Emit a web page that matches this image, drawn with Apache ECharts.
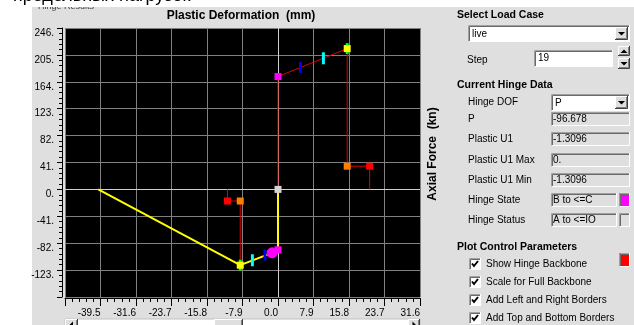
<!DOCTYPE html>
<html>
<head>
<meta charset="utf-8">
<script src="https://cdn.jsdelivr.net/npm/echarts@6/dist/echarts.min.js"></script>
<style>
html, body { margin: 0; padding: 0; background: #fff; }
#win { position: absolute; left: 32px; top: 7px; width: 602px; height: 318px; background: #dfdfdf; }
#chart { position: absolute; left: 0; top: 0; width: 634px; height: 325px; }
</style>
</head>
<body>
<div id="win"></div>
<div id="chart"></div>
<script>
// axis ticks
const xTickLabels = ['-47.4', '-39.5', '-31.6', '-23.7', '-15.8', '-7.9', '0.0', '7.9', '15.8', '23.7', '31.6'];
const yTickLabels = ['-164.', '-123.', '-82.', '-41.', '0.', '41.', '82.', '123.', '164.', '205.', '246.'];

// hinge backbone (plastic deformation mm, axial force kN)
const backboneX = [-11.25, -11.25, -8.4, -8.4, 0, 0, 15.4, 15.4, 20.4, 20.4];
const backboneY = [0, -17.7, -17.7, -115.5, -92, 172, 214.6, 35.4, 35.4, 0];

// hinge response path
const pathAX = [-40, -8.4, -1.3096];
const pathAY = [0, -115.5, -96.678];
const pathBX = [0, 0, -1.3096];
const pathBY = [0, -92, -96.678];

// backbone points A..E and acceptance marks
const ptA = [[0, 0]];
const ptB = [[0, 172], [0, -92]];
const ptC = [[15.4, 214.6], [-8.4, -115.5]];
const ptD = [[15.4, 35.4], [-8.4, -17.7]];
const ptE = [[20.4, 35.4], [-11.25, -17.7]];
const ptIO = [[5.0, 185.7], [-2.9, -100.1]];
const ptLS = [[10.1, 199.8], [-5.7, -108.0]];
const ptCP = [[15.4, 214.6], [-8.4, -115.5]];
const ptNow = [[-1.3096, -96.678]];

const FONT = '"Liberation Sans", Arial, sans-serif';

function pairs(xs, ys) {
  return xs.map((x, i) => [x, ys[i]]);
}

function marks(data, color, size, shape) {
  return {
    type: 'scatter', data: data, symbol: shape || 'rect', symbolSize: size,
    itemStyle: { color: color, opacity: 1 }, silent: true, z: 5
  };
}

function label(x, y, s, o) {
  o = o || {};
  const align = o.align || 'left';
  const va = o.va || 'middle';
  return {
    type: 'text', x: x, y: y, z: o.z || 20, rotation: o.rot || 0, silent: true,
    style: {
      text: s, font: (o.bold ? 'bold ' : '') + (o.size || 10) + 'px ' + FONT,
      fill: o.color || '#000', align: align, verticalAlign: va,
      textAlign: align, textVerticalAlign: va
    }
  };
}

function line(pts, color, z) {
  return { type: 'polyline', z: z || 20, silent: true, shape: { points: pts }, style: { stroke: color, fill: null, lineWidth: 1 } };
}

function sunken(x, y, w, h, fill) {
  return [
    { type: 'rect', z: 20, silent: true, shape: { x: x, y: y, width: w, height: h }, style: { fill: fill } },
    line([[x + 0.5, y + h], [x + 0.5, y + 0.5], [x + w, y + 0.5]], '#a0a0a0'),
    line([[x + 1.5, y + h - 1], [x + 1.5, y + 1.5], [x + w - 1, y + 1.5]], '#696969'),
    line([[x + 0.5, y + h - 0.5], [x + w - 0.5, y + h - 0.5], [x + w - 0.5, y]], '#ffffff')
  ];
}

function raised(x, y, w, h) {
  return [
    { type: 'rect', z: 21, silent: true, shape: { x: x, y: y, width: w, height: h }, style: { fill: '#dfdfdf' } },
    line([[x + 0.5, y + h], [x + 0.5, y + 0.5], [x + w, y + 0.5]], '#ffffff', 21),
    line([[x, y + h - 0.5], [x + w - 0.5, y + h - 0.5], [x + w - 0.5, y]], '#404040', 21),
    line([[x + 1, y + h - 1.5], [x + w - 1.5, y + h - 1.5], [x + w - 1.5, y + 1]], '#808080', 21)
  ];
}

function arrow(cx, cy, dir) {
  let p;
  if (dir === 'down') p = [[cx - 3.5, cy - 1.5], [cx + 3.5, cy - 1.5], [cx, cy + 2]];
  else if (dir === 'up') p = [[cx - 3.5, cy + 2], [cx + 3.5, cy + 2], [cx, cy - 1.5]];
  else if (dir === 'left') p = [[cx + 1.5, cy - 3.5], [cx + 1.5, cy + 3.5], [cx - 2, cy]];
  else p = [[cx - 1.5, cy - 3.5], [cx - 1.5, cy + 3.5], [cx + 2, cy]];
  return { type: 'polygon', z: 22, silent: true, shape: { points: p }, style: { fill: '#000' } };
}

function combo(x, y, w, h, s) {
  return [].concat(
    sunken(x, y, w, h, '#fff'),
    raised(x + w - 15, y + 2, 13, h - 4),
    [arrow(x + w - 8.5, y + h / 2, 'down'), label(x + 4, y + h / 2 + 0.5, s)]
  );
}

function checkbox(x, y, s) {
  return [].concat(
    sunken(x, y - 6, 12, 12, '#fff'),
    [{ type: 'polyline', z: 22, silent: true, shape: { points: [[x + 3, y - 0.5], [x + 5, y + 2], [x + 9, y - 3]] },
       style: { stroke: '#000', fill: null, lineWidth: 2 } },
     label(x + 17, y + 0.5, s)]
  );
}

const rows = [
  ['P', '-96.678', 112],
  ['Plastic U1', '-1.3096', 132],
  ['Plastic U1 Max', '0.', 153],
  ['Plastic U1 Min', '-1.3096', 173]
];

let panel = [
  label(38, 11, 'Hinge Results', { size: 9, color: '#404040', va: 'bottom' }),
  { type: 'rect', z: 30, silent: true, shape: { x: 0, y: 0, width: 634, height: 7 }, style: { fill: '#fff' } },
  label(13, -4, 'предельных нагрузок', { size: 18, z: 31 }),
  label(241, 16, 'Plastic Deformation  (mm)', { bold: true, size: 12, align: 'center' }),
  label(433, 154, 'Axial Force  (kn)', { bold: true, size: 12, align: 'center', rot: Math.PI / 2 }),
  label(457, 15, 'Select Load Case', { bold: true, size: 10.5 }),
  label(467, 60, 'Step'),
  label(457, 85, 'Current Hinge Data', { bold: true, size: 10.5 }),
  label(468, 102, 'Hinge DOF'),
  label(468, 200, 'Hinge State'),
  label(468, 220, 'Hinge Status'),
  label(457, 247, 'Plot Control Parameters', { bold: true, size: 10.5 })
];
panel = panel.concat(combo(468, 25, 162, 17, 'live'));
panel = panel.concat(sunken(534, 50, 79, 17, '#fff'), [label(538, 58.5, '19')]);
panel = panel.concat(raised(618, 46, 12, 10), [arrow(624, 51, 'up')]);
panel = panel.concat(raised(618, 58, 12, 11), [arrow(624, 63.5, 'down')]);
panel = panel.concat(combo(551, 94, 79, 17, 'P'));
rows.forEach(r => {
  panel = panel.concat([label(468, r[2] + 7, r[0])], sunken(551, r[2], 79, 14, '#dfdfdf'), [label(553, r[2] + 7.5, r[1])]);
});
panel = panel.concat(sunken(551, 193, 66, 14, '#dfdfdf'), [label(553, 200.5, 'B to <=C')]);
panel = panel.concat(sunken(619, 193, 11, 14, '#ff00ff'));
panel = panel.concat(sunken(551, 213, 66, 14, '#dfdfdf'), [label(553, 220.5, 'A to <=IO')]);
panel = panel.concat(sunken(619, 213, 11, 14, '#dfdfdf'));
panel = panel.concat(sunken(619, 253, 11, 14, '#ff0000'));
panel = panel.concat(checkbox(469, 264, 'Show Hinge Backbone'));
panel = panel.concat(checkbox(469, 282, 'Scale for Full Backbone'));
panel = panel.concat(checkbox(469, 300, 'Add Left and Right Borders'));
panel = panel.concat(checkbox(469, 318, 'Add Top and Bottom Borders'));
// horizontal scrollbar under the plot
panel = panel.concat(
  [{ type: 'rect', z: 20, silent: true, shape: { x: 65, y: 319, width: 355, height: 12 }, style: { fill: '#fff', stroke: '#c0c0c0', lineWidth: 1 } }],
  raised(65, 319, 13, 12), [arrow(71.5, 325, 'left')],
  raised(214, 319, 29, 12),
  raised(408, 319, 12, 12), [arrow(414, 325, 'right')]
);

const chart = echarts.init(document.getElementById('chart'), null, { renderer: 'canvas' });

const axisFont = { color: '#000', fontSize: 10, fontFamily: FONT };

chart.setOption({
  animation: false,
  backgroundColor: 'transparent',
  grid: {
    left: 65, top: 28, width: 355, height: 269,
    show: true, backgroundColor: '#000', borderWidth: 0,
    containLabel: false, outerBoundsMode: 'none'
  },
  xAxis: {
    type: 'value', min: -47.4, max: 31.6, interval: 7.9, offset: 1,
    axisLine: { show: true, onZero: false, lineStyle: { color: '#000', width: 1 } },
    axisTick: { show: true, length: 8, lineStyle: { color: '#000' } },
    minorTick: { show: true, splitNumber: 5, length: 4, lineStyle: { color: '#000' } },
    axisLabel: Object.assign({
      margin: 10, align: 'right', showMinLabel: false, showMaxLabel: true,
      formatter: v => {
        const i = Math.round((v + 47.4) / 7.9);
        return i === 0 ? '' : xTickLabels[i];
      }
    }, axisFont),
    splitLine: { show: true, lineStyle: { color: '#808080', width: 1 } }
  },
  yAxis: {
    type: 'value', min: -164, max: 246, interval: 41, offset: 3,
    axisLine: { show: true, onZero: false, lineStyle: { color: '#000', width: 1 } },
    axisTick: { show: true, length: 5, lineStyle: { color: '#000' } },
    minorTick: { show: true, splitNumber: 5, length: 3, lineStyle: { color: '#000' } },
    axisLabel: Object.assign({
      margin: 8, verticalAlign: 'top', showMinLabel: false, showMaxLabel: true,
      formatter: v => {
        const i = Math.round((v + 164) / 41);
        return i === 0 ? '' : yTickLabels[i];
      }
    }, axisFont),
    splitLine: { show: true, lineStyle: { color: '#808080', width: 1 } }
  },
  graphic: { elements: panel },
  series: [
    {
      type: 'line', data: [], z: 1, silent: true,
      markLine: {
        silent: true, symbol: 'none', label: { show: false }, animation: false, z: 1,
        lineStyle: { color: '#d0d0d0', type: 'solid', width: 1 },
        data: [{ xAxis: 0 }, { yAxis: 0 }]
      }
    },
    {
      type: 'line', data: pairs(backboneX, backboneY), symbol: 'none', silent: true, z: 2,
      lineStyle: { color: '#e00000', width: 1 }
    },
    {
      type: 'line', data: pairs(pathAX, pathAY), symbol: 'none', silent: true, z: 3,
      lineStyle: { color: '#ffff00', width: 2 }
    },
    {
      type: 'line', data: pairs(pathBX, pathBY), symbol: 'none', silent: true, z: 3,
      lineStyle: { color: '#ffff00', width: 2 }
    },
    marks(ptIO, '#0000ff', [3, 11]),
    marks(ptLS, '#00ffff', [3, 12]),
    marks(ptCP, '#00ff00', [3, 11]),
    marks(ptA, '#d4d4d4', 7),
    marks(ptD, '#ff8000', 7),
    marks(ptE, '#ff0000', 7),
    marks(ptC, '#ffff00', 7),
    marks(ptB, '#ff00ff', 7),
    marks(ptNow, '#ff00ff', 11, 'circle')
  ]
});
</script>
</body>
</html>
